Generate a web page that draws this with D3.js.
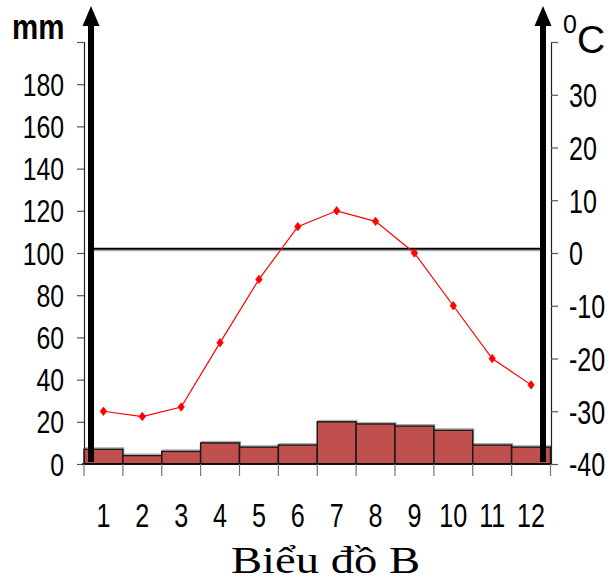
<!DOCTYPE html>
<html><head><meta charset="utf-8">
<script src="https://cdn.jsdelivr.net/npm/d3@7"></script>
<style>
html,body{margin:0;padding:0;background:#fff;}
svg{display:block;}
</style></head>
<body>
<script>
const months = ["1","2","3","4","5","6","7","8","9","10","11","12"];
const precipitation = [7, 4, 6, 10, 8, 9, 20, 19, 18, 16, 9, 8];
const temperature = [-30, -31, -29.2, -17, -5, 5, 8, 6, 0, -10, -20, -25];
const leftTicks = [0,20,40,60,80,100,120,140,160,180];
const rightTicks = [-40,-30,-20,-10,0,10,20,30];
const refLineMM = 102;
const leftUnit = "mm";
const title = "Biểu đồ B";

const W = 613, H = 585;
const SANS = "'Liberation Sans',Arial,sans-serif";
const svg = d3.select("body").append("svg").attr("width", W).attr("height", H);

const x = d3.scaleBand().domain(months).range([84, 550.5]).padding(0);
const yL = d3.scaleLinear().domain([0, 200]).range([464, 42]);
const yR = d3.scaleLinear().domain([-40, 40]).range([464, 42]);

// bars
svg.append("g").selectAll("rect").data(precipitation).join("rect")
  .attr("x", (d,i)=>x(months[i])+1).attr("y", d=>yL(d)-1.5)
  .attr("width", x.bandwidth()).attr("height", d=>yL(0)-yL(d)+1.5)
  .attr("fill", "none").attr("stroke", "#aaa").attr("stroke-width", 1);
svg.append("g").selectAll("rect").data(precipitation).join("rect")
  .attr("x", (d,i)=>x(months[i])).attr("y", d=>yL(d))
  .attr("width", x.bandwidth()).attr("height", d=>yL(0)-yL(d))
  .attr("fill", "#C0504D").attr("stroke", "#1a1a1a").attr("stroke-width", 1.5);

// left axis
const gL = svg.append("g").attr("transform", "translate(84,0)")
  .call(d3.axisLeft(yL).tickValues(leftTicks.concat([200])).tickSize(7)
    .tickFormat(d=> d===200 ? "" : d));
gL.select(".domain").attr("stroke", "#222").attr("stroke-width", 1.2);
gL.selectAll(".tick line").attr("stroke", "#555").attr("stroke-width", 1.2);
gL.selectAll(".tick text").attr("font-family", SANS).attr("font-size", 31).attr("fill", "#000")
  .attr("x", 0).attr("dy", "0.36em").attr("text-anchor", "end")
  .attr("transform", "translate(-20,0) scale(0.8,1)");

// right axis
const gR = svg.append("g").attr("transform", "translate(551,0)")
  .call(d3.axisRight(yR).tickValues(rightTicks.concat([40])).tickSize(7)
    .tickFormat(d=> d===40 ? "" : d));
gR.select(".domain").attr("stroke", "#222").attr("stroke-width", 1.2);
gR.selectAll(".tick line").attr("stroke", "#555").attr("stroke-width", 1.2);
gR.selectAll(".tick text").attr("font-family", SANS).attr("font-size", 33).attr("fill", "#000")
  .attr("x", 0).attr("dy", "0.36em").attr("text-anchor", "start")
  .attr("transform", "translate(18,0) scale(0.76,1)");

// bottom axis
const gB = svg.append("g").attr("transform", "translate(0,464)");
gB.append("line").attr("x1", 82).attr("x2", 551).attr("y1", 0).attr("y2", 0).attr("stroke", "#000").attr("stroke-width", 1.5);
const bounds = months.map(m=>x(m)).concat([x(months[11]) + x.bandwidth()]);
gB.selectAll("line.tk").data(bounds).join("line").attr("class","tk")
  .attr("x1", d=>d).attr("x2", d=>d).attr("y1", 0).attr("y2", 12)
  .attr("stroke", "#777").attr("stroke-width", 1.2);
gB.selectAll("text").data(months).join("text")
  .attr("transform", d=>`translate(${x(d)+x.bandwidth()/2},63) scale(0.74,1)`)
  .attr("text-anchor", "middle").attr("font-family", SANS).attr("font-size", 34).text(d=>d);

// reference line
svg.append("line").attr("x1", 93).attr("x2", 541).attr("y1", yL(refLineMM)+1.8).attr("y2", yL(refLineMM)+1.8)
  .attr("stroke", "#aaa").attr("stroke-width", 1.5);
svg.append("line").attr("x1", 93).attr("x2", 541).attr("y1", yL(refLineMM)).attr("y2", yL(refLineMM))
  .attr("stroke", "#000").attr("stroke-width", 2);

// arrows
function arrow(cx){
  svg.append("rect").attr("x", cx-3).attr("y", 22).attr("width", 6).attr("height", 462-22).attr("fill", "#000");
  svg.append("path").attr("d", `M${cx},6 L${cx+8.5},26 L${cx-8.5},26 Z`).attr("fill", "#000");
}
arrow(91);
arrow(543);

// temperature line
const line = d3.line().x((d,i)=>x(months[i])+x.bandwidth()/2).y(d=>yR(d));
svg.append("path").datum(temperature).attr("d", line).attr("fill", "none").attr("stroke", "#ff0000").attr("stroke-width", 1.2);
svg.append("g").selectAll("path").data(temperature).join("path")
  .attr("transform", (d,i)=>`translate(${x(months[i])+x.bandwidth()/2},${yR(d)})`)
  .attr("d", "M0,-4.2 L3.2,0 L0,4.2 L-3.2,0 Z").attr("fill", "#ff0000").attr("stroke", "#ff0000").attr("stroke-width", 0.8);

// unit labels
svg.append("text").attr("transform", "translate(12,39) scale(0.82,1)").attr("font-family", SANS).attr("font-weight", "bold")
  .attr("font-size", 36).text(leftUnit);
const cl = svg.append("text").attr("x", 563).attr("y", 53).attr("font-family", SANS);
cl.append("tspan").attr("font-size", 25).attr("dy", -20).text("0");
cl.append("tspan").attr("font-size", 39).attr("dy", 20).text("C");

// title
svg.append("text").attr("x", 231).attr("y", 573).attr("font-family", "'Liberation Serif','Times New Roman',serif")
  .attr("font-size", 38).attr("textLength", 189).attr("lengthAdjust", "spacingAndGlyphs").text(title);
</script>
</body></html>
